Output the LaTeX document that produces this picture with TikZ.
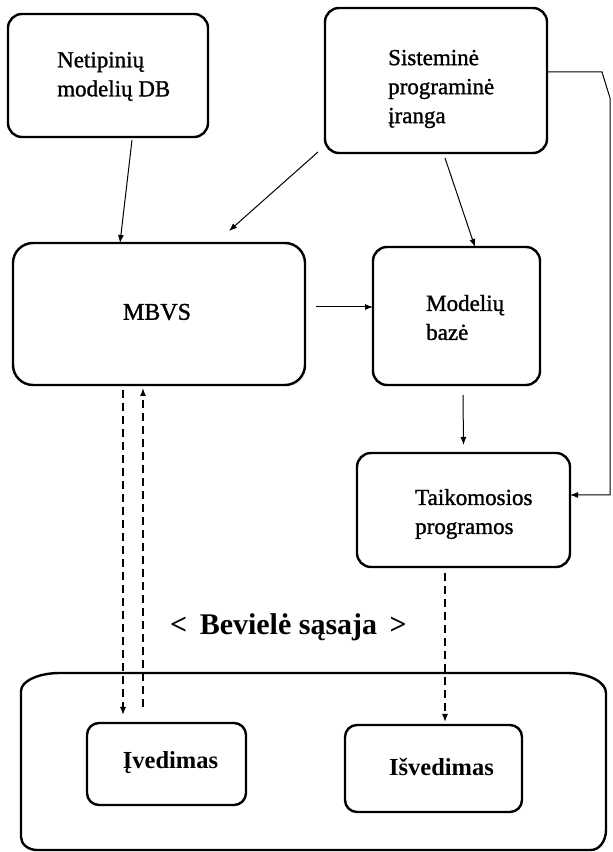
\documentclass[tikz,border=0pt]{standalone}
\usepackage{fontspec}
\setmainfont{Liberation Serif}
\newfontfamily\heavyserif{Liberation Serif}[FakeBold=1.2]
\usetikzlibrary{arrows.meta}
\begin{document}
\begin{tikzpicture}[x=1pt,y=1pt,
  box/.style={draw, line width=2.4pt, rounded corners=14pt, inner sep=0pt, outer sep=0pt},
  lbl/.style={font=\heavyserif\fontsize{23}{29}\selectfont, align=left, inner sep=0pt},
  blbl/.style={font=\bfseries\fontsize{24.5}{29}\selectfont, inner sep=0pt},
  arr/.style={line width=1pt, -{Latex[length=8pt,width=6pt]}},
  darr/.style={arr, line width=1.2pt, dash pattern=on 8pt off 5pt},
]
\fill[white] (0,0) rectangle (613,852);
\useasboundingbox (0,0) rectangle (613,852);

% top row
\node[box, minimum width=200pt, minimum height=123pt] (net) at (108,776.5) {};
\node[lbl, anchor=west] (nett) at (57,775.5) {Netipinių\\modelių DB};

\node[box, minimum width=222pt, minimum height=145pt] (sis) at (436,771.5) {};
\node[lbl, anchor=west] (sist) at (388,763) {Sisteminė\\programinė\\įranga};

% middle row
\node[box, rounded corners=20pt, minimum width=292pt, minimum height=142pt] (mbvs) at (159,538) {};
\node[lbl, font=\heavyserif\fontsize{24}{29}\selectfont] (mbvst) at (157,540) {MBVS};

\node[box, minimum width=167pt, minimum height=138pt] (mod) at (456.5,536) {};
\node[lbl, anchor=west] (modt) at (426,534.5) {Modelių\\bazė};

\node[box, minimum width=213pt, minimum height=114pt] (taik) at (463.5,342) {};
\node[lbl, anchor=west] (taikt) at (415,338) {Taikomosios\\programos};

% wireless interface label
\node[font=\bfseries\fontsize{30}{36}\selectfont, inner sep=0pt] (wl) at (288.5,225) {<\, Bevielė sąsaja\, >};

% terminal frame
\draw[line width=2.4pt] (60,179) -- (567,179)
  arc[start angle=90, end angle=0, x radius=39, y radius=20] -- (606,22)
  arc[start angle=0, end angle=-90, x radius=15, y radius=20] -- (37,2)
  arc[start angle=270, end angle=180, x radius=16, y radius=13] -- (21,161)
  arc[start angle=180, end angle=90, x radius=39, y radius=18] -- cycle;

\node[box, rounded corners=12pt, minimum width=159pt, minimum height=82pt] (ived) at (166.5,88) {};
\node[blbl] (ivedt) at (170.5,89) {Įvedimas};

\node[box, rounded corners=12pt, minimum width=177pt, minimum height=87pt] (isv) at (433.5,83.5) {};
\node[blbl] (isvt) at (441.5,85) {Išvedimas};

% connectors
\coordinate (tipA) at (229,621);
\coordinate (r1) at (602,780);
\coordinate (r2) at (610,754);
\coordinate (r3) at (610,357);
\coordinate (inA) at (123,137);
\coordinate (inB) at (143,145);

\draw[arr] ([shift={(24pt,-3pt)}]net.south) -- ([xshift=-39pt]mbvs.north);
\draw[arr] ([shift={(-7pt,1pt)}]sis.south west) -- (tipA);
\draw[arr] ([shift={(9pt,-5pt)}]sis.south) -- ([xshift=18.5pt]mod.north);
\draw[arr] ([shift={(11pt,7pt)}]mbvs.east) -- ([yshift=9pt]mod.west);
\draw[arr] ([shift={(6.5pt,-10pt)}]mod.south) -- ([yshift=8pt]taik.north);
\draw[arr] ([yshift=8.5pt]sis.east) -- (r1) -- (r2) -- (r3) -- ([yshift=15pt]taik.east);

\draw[darr] ([shift={(-36pt,-5pt)}]mbvs.south) -- (inA);
\draw[darr] (inB) -- ([shift={(-16pt,-3pt)}]mbvs.south);
\draw[darr] ([shift={(-18.5pt,-6pt)}]taik.south) -- ([shift={(11.5pt,3pt)}]isv.north);
\end{tikzpicture}
\end{document}
